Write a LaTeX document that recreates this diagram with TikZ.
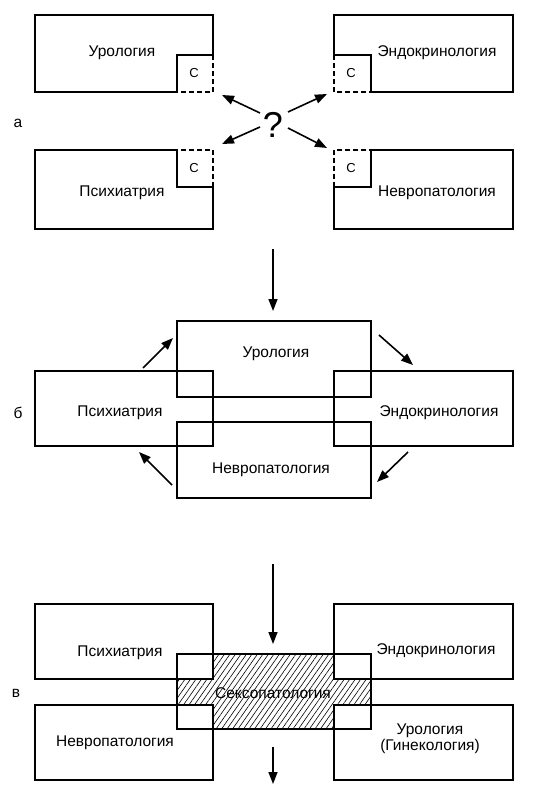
\documentclass[tikz,border=0pt]{standalone}
\usepackage{fontspec}
\setmainfont{Liberation Sans}
\usetikzlibrary{arrows.meta}
\usetikzlibrary{patterns.meta}
\usetikzlibrary{positioning}

\begin{document}
\begin{tikzpicture}[x=1pt,y=-1pt,
    box/.style={draw,line width=1.8pt},
    dbox/.style={line width=1.8pt,dash pattern=on 5pt off 3pt},
    field/.style={draw,line width=1.8pt,inner sep=0pt},
    lbl/.style={font=\fontsize{15.5}{16}\selectfont,inner sep=0pt,align=center},
    sq/.style={font=\fontsize{13}{13}\selectfont,inner sep=0pt},
    arr/.style={line width=1.6pt,-{Triangle[length=12pt,width=9pt]}},
    hatch/.style={pattern={Lines[angle=55,distance=4.5pt,line width=0.6pt]}}]

    \useasboundingbox (0,0) rectangle (537,810);

    \draw [box] (177,92) -- (35,92) -- (35,15) -- (213,15) -- (213,55) -- (177,55) -- cycle;
    \draw [dbox] (213,55) -- (213,92) -- (177,92);
    \draw [box] (371,92) -- (513,92) -- (513,15) -- (334,15) -- (334,55) -- (371,55) -- cycle;
    \draw [dbox] (334,55) -- (334,92) -- (371,92);
    \draw [box] (177,150) -- (35,150) -- (35,229) -- (213,229) -- (213,187) -- (177,187) -- cycle;
    \draw [dbox] (213,187) -- (213,150) -- (177,150);
    \draw [box] (371,150) -- (513,150) -- (513,229) -- (334,229) -- (334,187) -- (371,187) -- cycle;
    \draw [dbox] (334,187) -- (334,150) -- (371,150);

    \node [lbl] (uroA) at (122,53) {Урология};
    \node [lbl] (endoA) at (437,53) {Эндокринология};
    \node [lbl] (psyA) at (122,193) {Психиатрия};
    \node [lbl] (neuA) at (437,193) {Невропатология};
    \node [sq] (cUro) at (194,73) {С};
    \node [sq] (cEndo) at (351,73) {С};
    \node [sq] (cPsy) at (194,168) {С};
    \node [sq] (cNeu) at (351,168) {С};
    \node [lbl] (partA) at (18,123) {а};

    \node [inner sep=0pt,font=\fontsize{36}{36}\selectfont] (quest) at (273,125) {?};
    \coordinate (qUro) at (260,113);
    \coordinate (qEndo) at (288,112);
    \coordinate (qPsy) at (260,127);
    \coordinate (qNeu) at (288,128);
    \coordinate (tUro) at (222,95);
    \coordinate (tEndo) at (327,94);
    \coordinate (tPsy) at (222,144);
    \coordinate (tNeu) at (327,148);
    \draw [arr] (qUro) -- (tUro);
    \draw [arr] (qEndo) -- (tEndo);
    \draw [arr] (qPsy) -- (tPsy);
    \draw [arr] (qNeu) -- (tNeu);

    \coordinate (outA) at (273,249);
    \coordinate (inB) at (273,311);
    \draw [arr] (outA) -- (inB);

    \node [field,minimum width=194pt,minimum height=76pt] (uroB) at (274,359) {};
    \node [field,minimum width=178pt,minimum height=75pt] (psyB) at (124,408.5) {};
    \node [field,minimum width=179pt,minimum height=75pt] (endoB) at (423.5,408.5) {};
    \node [field,minimum width=194pt,minimum height=76pt] (neuB) at (274,460) {};
    \node [lbl] (uroBt) at (276,354) {Урология};
    \node [lbl] (psyBt) at (120,413) {Психиатрия};
    \node [lbl] (endoBt) at (439,413) {Эндокринология};
    \node [lbl] (neuBt) at (271,470) {Невропатология};
    \node [lbl] (partB) at (18,413) {б};

    \coordinate (s1) at (143,368);
    \coordinate (t1) at (173,338);
    \coordinate (s2) at (379,335);
    \coordinate (t2) at (413,365);
    \coordinate (s3) at (408,452);
    \coordinate (t3) at (377,482);
    \coordinate (s4) at (172,485);
    \coordinate (t4) at (139,452);
    \draw [arr] (s1) -- (t1);
    \draw [arr] (s2) -- (t2);
    \draw [arr] (s3) -- (t3);
    \draw [arr] (s4) -- (t4);

    \coordinate (outB) at (273,564);
    \coordinate (inC) at (273,644);
    \draw [arr] (outB) -- (inC);

    \fill [hatch] (213,654) -- (334,654) -- (334,679) -- (371,679) -- (371,705) -- (334,705)
        -- (334,729) -- (213,729) -- (213,705) -- (177,705) -- (177,679) -- (213,679) -- cycle;
    \node [field,minimum width=178pt,minimum height=75pt] (psyC) at (124,641.5) {};
    \node [field,minimum width=179pt,minimum height=75pt] (endoC) at (423.5,641.5) {};
    \node [field,minimum width=178pt,minimum height=75pt] (neuC) at (124,742.5) {};
    \node [field,minimum width=179pt,minimum height=75pt] (uroC) at (423.5,742.5) {};
    \node [field,minimum width=194pt,minimum height=75pt] (sexC) at (274,691.5) {};
    \node [lbl] (psyCt) at (120,653) {Психиатрия};
    \node [lbl] (endoCt) at (436,651) {Эндокринология};
    \node [lbl] (sexCt) at (273,693) {Сексопатология};
    \node [lbl] (neuCt) at (115,743) {Невропатология};
    \node [lbl] (uroCt) at (430,739) {Урология\\(Гинекология)};
    \node [lbl] (partC) at (16,693) {в};

    \coordinate (outC) at (273,747);
    \coordinate (endC) at (273,784);
    \draw [arr] (outC) -- (endC);
\end{tikzpicture}
\end{document}
